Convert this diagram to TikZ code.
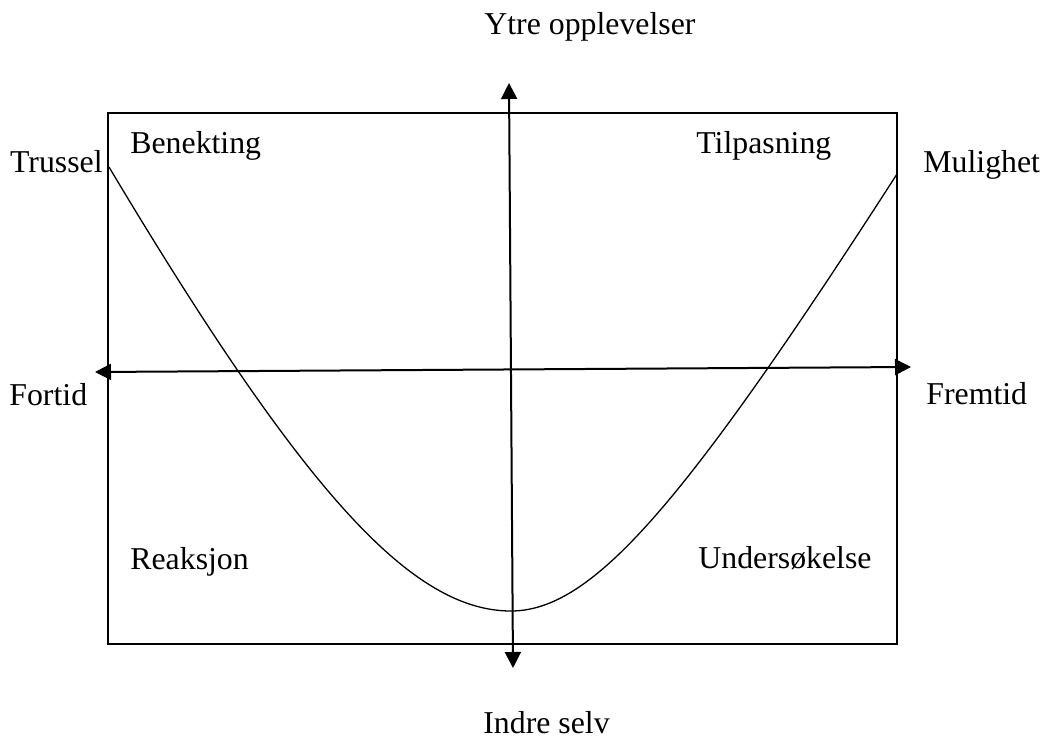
\documentclass[tikz,border=0pt]{standalone}
\usepackage{fontspec}
\setmainfont{Liberation Serif}
\usetikzlibrary{arrows.meta}
\begin{document}
\begin{tikzpicture}[x=0.5pt,y=-0.5pt,
  lbl/.style={inner sep=0pt,font=\fontsize{15.9}{19}\selectfont},
  frame/.style={line width=0.8pt},
  axisline/.style={line width=1pt,{Triangle[length=8pt,width=8pt]}-{Triangle[length=8pt,width=8pt]}},
  curveline/.style={line width=0.65pt}]
\useasboundingbox (0,0) rectangle (1043,738);
% frame
\coordinate (tl) at (108,113);
\coordinate (br) at (897,644);
\draw[frame] (tl) rectangle (br);
% axes
\coordinate (up) at (509,83);
\coordinate (down) at (513,668);
\coordinate (left) at (95,372);
\coordinate (right) at (911,367);
\draw[axisline] (down) -- (up);
\draw[axisline] (left) -- (right);
% curve
\draw[curveline]
  plot[domain=109:511,samples=90] (\x,{611-444*(sqrt(1+((511-\x)/241.2)^2)-1)/0.9437})
  -- plot[domain=511:897,samples=90] (\x,{611-437*(sqrt(1+((\x-511)/154.4)^2)-1)/1.6926});
% labels
\node[lbl,anchor=base west] (ytre) at (484,35) {Ytre opplevelser};
\node[lbl,anchor=base west] (indre) at (483,733) {Indre selv};
\node[lbl,anchor=base east] (trussel) at (103,172) {Trussel};
\node[lbl,anchor=base west] (mulighet) at (923,172) {Mulighet};
\node[lbl,anchor=base west] (benekting) at (130,153) {Benekting};
\node[lbl,anchor=base west] (tilpasning) at (696,153) {Tilpasning};
\node[lbl,anchor=base west] (fortid) at (9,405) {Fortid};
\node[lbl,anchor=base west] (fremtid) at (926,404) {Fremtid};
\node[lbl,anchor=base west] (reaksjon) at (130,569) {Reaksjon};
\node[lbl,anchor=base west] (undersokelse) at (698,568) {Undersøkelse};
\end{tikzpicture}
\end{document}
